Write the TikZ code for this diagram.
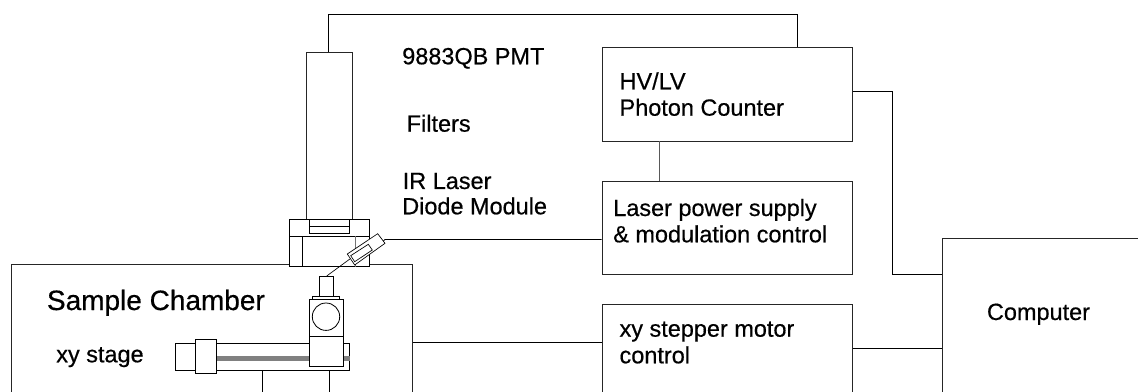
\documentclass[tikz,border=0pt]{standalone}
\usepackage{fontspec}
\setmainfont{Liberation Sans}[FakeBold=0.5]
\tikzset{
  part/.style={draw=black,line width=0.6pt,fill=white},
  box/.style={draw=black!85,line width=0.65pt,fill=white,inner sep=0pt,rectangle},
  wire/.style={draw=black,line width=0.6pt},
  greywire/.style={draw=black!65,line width=0.7pt},
  lab/.style={anchor=base west,inner sep=0pt,font=\fontsize{17.6}{21}\selectfont},
  big/.style={anchor=base west,inner sep=0pt,font=\fontsize{21}{25}\selectfont},
}
\newcommand{\boxnode}[5]{\node[box,minimum width=#4*0.75pt-#2*0.75pt,minimum height=#5*0.75pt-#3*0.75pt] (#1) at ({(#2+#4)/2},{(#3+#5)/2}) {};}
\begin{document}
\begin{tikzpicture}[x=0.75pt,y=-0.75pt]
\useasboundingbox (0,0) rectangle (1138,392);
\clip (0,0) rectangle (1138,392);
% boxes
\boxnode{chamber}{11}{264.5}{412.5}{450}
\boxnode{hv}{602}{47.5}{852.5}{141}
\boxnode{lps}{602}{181}{852.5}{274}
\boxnode{xy}{602}{304.5}{852.5}{450}
\boxnode{comp}{942.5}{238}{1200}{450}
\boxnode{pmt}{306}{52.5}{352}{219.5}
% connectors
\draw[wire] (pmt.north -| 328,0) -- (328,14) -- (797,14) -- (hv.north -| 797,0);
\draw[greywire] (hv.south -| 659,0) -- (lps.north -| 659,0);
\draw[wire] (hv.east |- 0,91) -- (892,91) -- (892,274) -- (comp.west |- 0,274);
\draw[wire] (xy.east |- 0,348) -- (comp.west |- 0,348);
\draw[wire] (chamber.east |- 0,342) -- (xy.west |- 0,342);
\coordinate (laserend) at (381,243);
\draw[wire] (laserend) -- (385,239.5) -- (lps.west |- 0,239.5);
% module
\path[part] (289.5,219.5) rectangle (369.5,266.5);
\draw[wire] (289.5,236) -- (369.5,236);
\draw[wire] (302.5,236) -- (302.5,266.5);
\draw[draw=black!55,line width=0.7pt] (355.5,236) -- (355.5,266.5);
\path[part] (309,219.5) rectangle (349.5,233);
\draw[wire] (309,226) -- (349.5,226);
% beam + laser
\draw[line width=0.5pt] (326.7,276) -- (356.7,254);
\path[part,line width=0.5pt] (377.7,233.7) -- (385,243.3) -- (354.7,265) -- (347.3,254) -- cycle;
\draw[line width=0.5pt] (368.3,244.3) -- (372.3,250) -- (354.7,261.7) -- (350.7,255.7) -- cycle;
% stage
\path[part] (175.5,343.5) rectangle (349.5,370.5);
\fill[black!50] (216,356) rectangle (349.5,360.7);
\path[part] (195.7,339.7) rectangle (216,373.3);
\draw[wire] (262.5,370.5) -- (262.5,392);
\draw[wire] (329.5,370.5) -- (329.5,392);
\path[part] (319.5,276) rectangle (333,296.7);
\path[part] (312.5,296.7) rectangle (339.5,299.5);
\path[part] (309,299.5) rectangle (343,336.5);
\draw[wire] (326,316.7) circle (13.7);
\path[part] (309,336.5) rectangle (343,366.7);
% labels
\node[lab] (t1) at (402,64.3) {9883QB PMT};
\node[lab] (t2) at (406.5,131.7) {Filters};
\node[lab] (t3) at (402.5,189) {IR Laser};
\node[lab] (t4) at (402,214.3) {Diode Module};
\node[lab] (t5) at (619.3,89.3) {HV/LV};
\node[lab] (t6) at (619.3,115.7) {Photon Counter};
\node[lab] (t7) at (613,216) {Laser power supply};
\node[lab] (t8) at (613,242.3) {\& modulation control};
\node[lab] (t9) at (619.3,336.7) {xy stepper motor};
\node[lab] (t10) at (619.3,363.3) {control};
\node[big] (t11) at (46.7,310) {Sample Chamber};
\node[lab] (t12) at (56,362.3) {xy stage};
\node[lab] (t13) at (986.7,320) {Computer};
\end{tikzpicture}
\end{document}
